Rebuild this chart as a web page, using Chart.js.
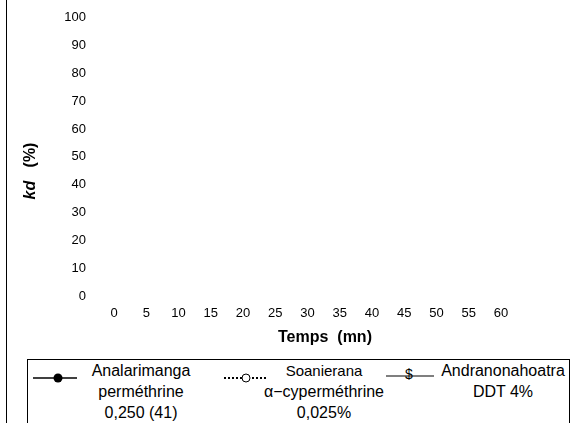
<!DOCTYPE html>
<html>
<head>
<meta charset="utf-8">
<script src="https://cdn.jsdelivr.net/npm/chart.js@4"></script>
<style>
  body { margin: 0; background: #fff; }
  #wrap { position: relative; width: 576px; height: 423px; overflow: hidden; font-family: "Liberation Sans", Arial, sans-serif; }
  #frame { position: absolute; left: 6px; top: 0; width: 1px; height: 423px; background: #000; }
  #cv { position: absolute; left: 7px; top: -18px; }
  #legend { position: absolute; left: 27px; top: 359px; width: 543px; height: 80px; border: 1px solid #000; box-sizing: border-box; }
  .sym { position: absolute; top: 10px; }
  .txt { position: absolute; top: 0px; text-align: center; font-size: 16px; line-height: 21px; color: #000; white-space: nowrap; }
</style>
</head>
<body>
<div id="wrap">
  <div id="frame"></div>
  <canvas id="cv" width="569" height="374"></canvas>
  <div id="legend"></div>
</div>
<script>
const times = [0, 5, 10, 15, 20, 25, 30, 35, 40, 45, 50, 55, 60];
// no points are visible in the picture, so every value is empty
const analarimanga = [null, null, null, null, null, null, null, null, null, null, null, null, null];
const soanierana = [null, null, null, null, null, null, null, null, null, null, null, null, null];
const andranonahoatra = [null, null, null, null, null, null, null, null, null, null, null, null, null];
const seriesLabels = [
  ["Analarimanga", "perméthrine", "0,250 (41)"],
  ["Soanierana", "α−cyperméthrine", "0,025%"],
  ["Andranonahoatra", "DDT 4%"],
];
const yTicks = [0, 10, 20, 30, 40, 50, 60, 70, 80, 90, 100];

const toPoints = (vals) => times.map((t, i) => ({ x: t, y: vals[i] }));

// canvas sits 18px above the page top
const shift = 18;

const axisTitles = {
  id: "axisTitles",
  afterDraw(chart) {
    const ctx = chart.ctx;
    ctx.save();
    ctx.fillStyle = "#000";
    ctx.textBaseline = "middle";
    // x title
    ctx.font = "bold 16px 'Liberation Sans', Arial";
    ctx.textAlign = "center";
    ctx.fillText("Temps  (mn)", 318, 338 + shift);
    // y title, "kd" in italic
    ctx.translate(24, 171 + shift);
    ctx.rotate(-Math.PI / 2);
    const a = "kd";
    const b = "   (%)";
    ctx.font = "italic bold 16px 'Liberation Sans', Arial";
    const wa = ctx.measureText(a).width;
    ctx.font = "bold 16px 'Liberation Sans', Arial";
    const wb = ctx.measureText(b).width;
    let x0 = -(wa + wb) / 2;
    ctx.textAlign = "left";
    ctx.font = "italic bold 16px 'Liberation Sans', Arial";
    ctx.fillText(a, x0, 0);
    ctx.font = "bold 16px 'Liberation Sans', Arial";
    ctx.fillText(b, x0 + wa, 0);
    ctx.restore();
  },
};

new Chart(document.getElementById("cv"), {
  type: "line",
  data: {
    datasets: [
      {
        label: seriesLabels[0].join(" "),
        data: toPoints(analarimanga),
        borderColor: "#000",
        backgroundColor: "#000",
        borderWidth: 1,
        pointRadius: 4,
      },
      {
        label: seriesLabels[1].join(" "),
        data: toPoints(soanierana),
        borderColor: "#000",
        backgroundColor: "#fff",
        borderWidth: 1,
        borderDash: [2, 2],
        pointRadius: 4,
      },
      {
        label: seriesLabels[2].join(" "),
        data: toPoints(andranonahoatra),
        borderColor: "#000",
        backgroundColor: "#000",
        borderWidth: 1,
        pointRadius: 0,
      },
    ],
  },
  options: {
    responsive: false,
    animation: false,
    layout: { padding: { top: 0, right: 75, left: 0, bottom: 0 } },
    plugins: { legend: { display: false }, tooltip: { enabled: false } },
    scales: {
      x: {
        type: "linear",
        min: 0,
        max: 60,
        afterFit: (s) => { s.height = 60; },
        grid: { display: false, drawTicks: false },
        border: { display: false },
        ticks: {
          stepSize: 5,
          maxRotation: 0,
          padding: 10,
          color: "#000",
          font: { size: 13, family: "'Liberation Sans', Arial" },
        },
      },
      y: {
        min: 0,
        max: 100,
        afterFit: (s) => { s.width = 107; },
        afterBuildTicks: (s) => { s.ticks = yTicks.map((v) => ({ value: v })); },
        grid: { display: false, drawTicks: false },
        border: { display: false },
        ticks: {
          padding: 28,
          color: "#000",
          font: { size: 13, family: "'Liberation Sans', Arial" },
        },
      },
    },
  },
  plugins: [axisTitles],
});

// legend below the plot
const legend = document.getElementById("legend");
const symbols = [
  '<svg width="46" height="12"><line x1="0" y1="6" x2="44" y2="6" stroke="#000" stroke-width="1.3"/><circle cx="25" cy="6" r="4.5" fill="#000"/></svg>',
  '<svg width="46" height="12"><line x1="0" y1="6" x2="44" y2="6" stroke="#000" stroke-width="2" stroke-dasharray="2,2"/><circle cx="22" cy="6" r="4" fill="#fff" stroke="#000" stroke-width="1"/></svg>',
  '<svg width="50" height="16"><line x1="0" y1="9" x2="48" y2="9" stroke="#000" stroke-width="1.2"/><text x="23" y="12" text-anchor="middle" font-size="14" font-family="Liberation Sans, Arial">$</text></svg>',
];
const symX = [5, 196, 358];
const txtCenter = [113, 296, 475];
seriesLabels.forEach((lines, i) => {
  const s = document.createElement("div");
  s.className = "sym";
  s.style.left = symX[i] + "px";
  s.style.top = (i === 2 ? 7 : 10) + "px";
  s.innerHTML = symbols[i];
  legend.appendChild(s);
  const t = document.createElement("div");
  t.className = "txt";
  t.style.left = (txtCenter[i] - 100) + "px";
  t.style.width = "200px";
  t.innerHTML = lines
    .map((l, j) => (i === 1 && j === 0 ? '<span style="font-size:15px">' + l + "</span>" : l))
    .join("<br>");
  legend.appendChild(t);
});
</script>
</body>
</html>
